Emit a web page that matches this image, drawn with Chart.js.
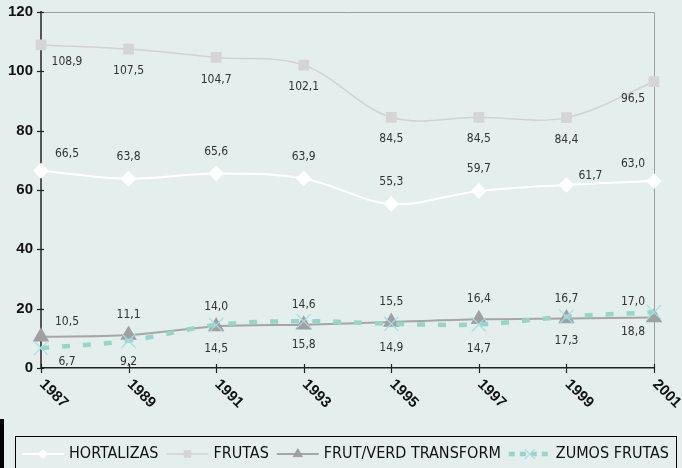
<!DOCTYPE html>
<html><head><meta charset="utf-8">
<script src="https://cdn.jsdelivr.net/npm/chart.js@4/dist/chart.umd.min.js"></script>
<style>
html,body{margin:0;padding:0;background:#e4eeec;}
#wrap{position:relative;width:682px;height:468px;overflow:hidden;}
#bar{position:absolute;left:0;top:419px;width:4px;height:49px;background:#000;}
</style></head><body>
<div id="wrap"><canvas id="c" width="682" height="468"></canvas><div id="bar"></div></div>
<script>
// ---- data ----
const years = ['1987','1989','1991','1993','1995','1997','1999','2001'];
const hortalizas = [66.5, 63.8, 65.6, 63.9, 55.3, 59.7, 61.7, 63.0];
const frutas = [108.9, 107.5, 104.7, 102.1, 84.5, 84.5, 84.4, 96.5];
const frutVerd = [10.5, 11.1, 14.0, 14.6, 15.5, 16.4, 16.7, 17.0];
const zumos = [6.7, 9.2, 14.5, 15.8, 14.9, 14.7, 17.3, 18.8];
const seriesNames = ['HORTALIZAS', 'FRUTAS', 'FRUT/VERD TRANSFORM', 'ZUMOS FRUTAS'];
const yTicks = [0, 20, 40, 60, 80, 100, 120];

// ---- style ----
const BG = '#e4eeec';
const NARROW = '"Liberation Sans Narrow","DejaVu Sans Condensed","Liberation Sans",sans-serif';
const BOLD = '"Liberation Sans",Arial,sans-serif';
const labelNudges = {'0-6': [24, 13]};
const fmt = v => v.toFixed(1).replace('.', ',');

const decor = {
  id: 'decor',
  beforeDraw(chart) {
    const c = chart.ctx;
    c.save(); c.fillStyle = BG; c.fillRect(0, 0, chart.width, chart.height); c.restore();
  },
  beforeDatasetsDraw(chart) {
    const {ctx, chartArea: a, scales: {x, y}} = chart;
    ctx.save();
    ctx.strokeStyle = '#a0a0a0'; ctx.lineWidth = 1;
    ctx.beginPath();
    ctx.moveTo(a.left, Math.round(a.top) + 0.5);
    ctx.lineTo(Math.round(a.right) + 0.5, Math.round(a.top) + 0.5);
    ctx.lineTo(Math.round(a.right) + 0.5, a.bottom);
    ctx.stroke();
    ctx.strokeStyle = '#222'; ctx.lineWidth = 1.2;
    y.ticks.forEach(t => {
      const py = Math.round(y.getPixelForValue(t.value)) + 0.5;
      ctx.beginPath(); ctx.moveTo(a.left - 4, py); ctx.lineTo(a.left + 3, py); ctx.stroke();
    });
    x.ticks.forEach((t, i) => {
      const px = Math.round(x.getPixelForTick(i)) + 0.5;
      ctx.beginPath(); ctx.moveTo(px, a.bottom - 4); ctx.lineTo(px, a.bottom + 5); ctx.stroke();
    });
    ctx.restore();
  },
  afterDraw(chart) {
    const {ctx, chartArea: a, scales: {x}} = chart;
    ctx.save();
    // x tick labels, rotated down-right
    ctx.font = 'bold 15px ' + BOLD;
    ctx.fillStyle = '#111';
    x.ticks.forEach((t, i) => {
      const px = x.getPixelForTick(i);
      ctx.save();
      ctx.translate(px + 1, a.bottom + 14);
      ctx.rotate(Math.PI / 4);
      ctx.textAlign = 'left'; ctx.textBaseline = 'middle';
      ctx.fillText(x.getLabelForValue(t.value), 0, 0);
      ctx.restore();
    });
    // data labels
    ctx.font = '12px ' + NARROW;
    ctx.fillStyle = '#333';
    ctx.textAlign = 'center'; ctx.textBaseline = 'middle';
    chart.data.datasets.forEach((ds, di) => {
      const meta = chart.getDatasetMeta(di);
      const n = meta.data.length;
      meta.data.forEach((pt, j) => {
        let dx = 0, dy = ds.labelDy;
        if (j === 0) { dx = 26; dy = ds.labelDy * 0.75; }
        if (j === n - 1) { dx = -21; dy = ds.labelDy * 0.8; }
        const nudge = labelNudges[di + '-' + j];
        if (nudge) { dx += nudge[0]; dy += nudge[1]; }
        let ly = Math.min(pt.y + dy, a.bottom - 6);
        ctx.fillText(fmt(ds.data[j]), pt.x + dx, ly);
      });
    });
    // legend
    ctx.strokeStyle = '#000'; ctx.lineWidth = 1;
    ctx.strokeRect(15.5, 436.5, 661, 40);
    ctx.font = '16px ' + NARROW;
    const sampleW = 42, gapT = 5, gapI = 8, cy = 454;
    const widths = seriesNames.map(s => ctx.measureText(s).width);
    const total = widths.reduce((s, w) => s + w, 0) + seriesNames.length * (sampleW + gapT) + (seriesNames.length - 1) * gapI;
    let cx = 345.5 - total / 2;
    chart.data.datasets.forEach((ds, i) => {
      ctx.save();
      ctx.strokeStyle = ds.borderColor;
      ctx.lineWidth = ds.borderWidth;
      if (ds.borderDash) ctx.setLineDash([6, 5]);
      ctx.beginPath(); ctx.moveTo(cx, cy); ctx.lineTo(cx + sampleW, cy); ctx.stroke();
      ctx.setLineDash([]);
      ctx.fillStyle = ds.pointBackgroundColor || ds.borderColor;
      ctx.strokeStyle = ds.pointBorderColor || ds.borderColor;
      ctx.lineWidth = ds.pointBorderWidth || 1;
      Chart.helpers.drawPoint(ctx, {pointStyle: ds.pointStyle, radius: ds.pointRadius * 0.7, rotation: 0, borderWidth: ctx.lineWidth}, cx + sampleW / 2, cy);
      ctx.restore();
      ctx.fillStyle = '#111';
      ctx.textAlign = 'left'; ctx.textBaseline = 'middle';
      ctx.fillText(seriesNames[i], cx + sampleW + gapT, cy);
      cx += sampleW + gapT + widths[i] + gapI;
    });
    ctx.restore();
  }
};

new Chart(document.getElementById('c'), {
  type: 'line',
  data: {
    labels: years,
    datasets: [
      {label: seriesNames[0], data: hortalizas, borderColor: '#ffffff', borderWidth: 2,
       pointStyle: 'rectRot', pointRadius: 6.5, pointBackgroundColor: '#ffffff', pointBorderColor: '#ffffff',
       tension: 0.35, clip: false, order: 2, labelDy: -22},
      {label: seriesNames[1], data: frutas, borderColor: '#d2d2d2', borderWidth: 1.5,
       pointStyle: 'rect', pointRadius: 6.5, pointBackgroundColor: '#d5d5d5', pointBorderColor: '#d5d5d5',
       tension: 0.35, clip: false, order: 3, labelDy: 22},
      {label: seriesNames[2], data: frutVerd, borderColor: '#a6a6a6', borderWidth: 2,
       pointStyle: 'triangle', pointRadius: 7.5, pointBackgroundColor: '#a0a0a0', pointBorderColor: '#a0a0a0',
       tension: 0.35, clip: false, order: 1, labelDy: -20},
      {label: seriesNames[3], data: zumos, borderColor: '#98d4c8', borderWidth: 4.5, borderDash: [8, 13],
       pointStyle: 'crossRot', pointRadius: 10, pointBackgroundColor: '#a6dde6', pointBorderColor: '#a6dde6', pointBorderWidth: 1.2,
       tension: 0.35, clip: false, order: 0, labelDy: 24}
    ]
  },
  options: {
    responsive: false, animation: false, devicePixelRatio: 1,
    layout: {padding: {top: 12, right: 28, left: 0, bottom: 0}},
    plugins: {legend: {display: false}, tooltip: {enabled: false}},
    scales: {
      x: {type: 'category', offset: false,
          grid: {display: false, drawTicks: false},
          border: {display: true, color: '#222', width: 1.5},
          ticks: {display: false},
          afterFit(s) { s.height = 100; }},
      y: {min: 0, max: 120,
          afterBuildTicks(s) { s.ticks = yTicks.map(v => ({value: v})); },
          grid: {display: false, drawTicks: false},
          border: {display: true, color: '#555', width: 2},
          ticks: {padding: 8, color: '#111', font: {family: BOLD, size: 15, weight: 'bold', lineHeight: 1},
                  callback: v => String(v)},
          afterFit(s) { s.width = 41; s.paddingTop = 0; s.paddingBottom = 0; }}
    }
  },
  plugins: [decor]
});
</script>
</body></html>
